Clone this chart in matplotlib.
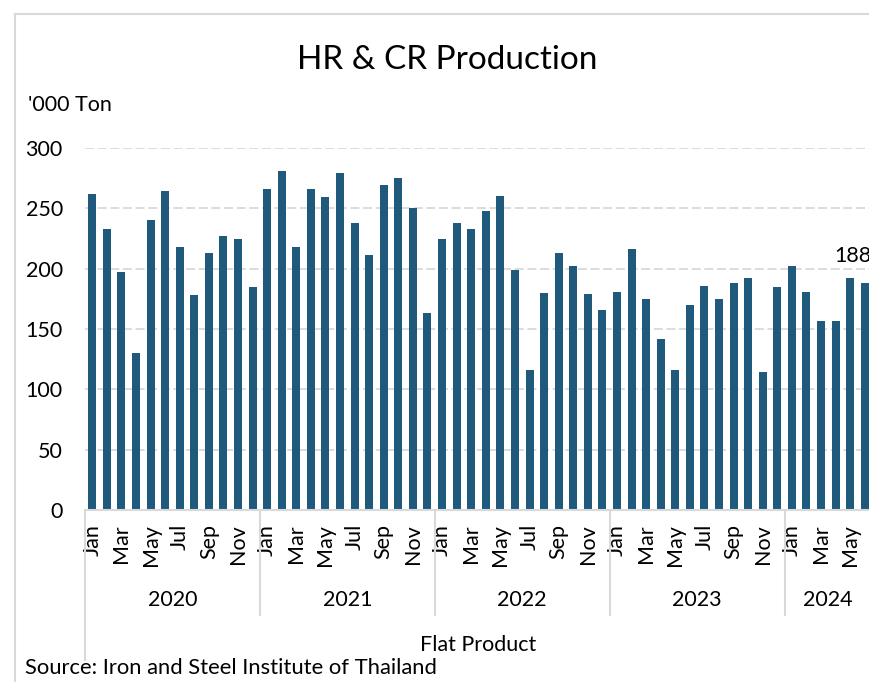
import matplotlib
matplotlib.use("Agg")
import matplotlib.pyplot as plt
from matplotlib.lines import Line2D
import numpy as np

plt.rcParams['font.family'] = ['Lato', 'DejaVu Sans']

# Monthly HR & CR production, Jan 2020 - Jun 2024 ('000 ton)
years = ["2020", "2021", "2022", "2023", "2024"]
months_per_year = [12, 12, 12, 12, 6]
month_names = ["Jan", "Feb", "Mar", "Apr", "May", "Jun",
               "Jul", "Aug", "Sep", "Oct", "Nov", "Dec"]
production = [
    262, 233, 197, 130, 240, 264, 218, 178, 213, 227, 225, 185,   # 2020
    266, 281, 218, 266, 259, 279, 238, 211, 269, 275, 250, 163,   # 2021
    225, 238, 233, 248, 260, 199, 116, 180, 213, 202, 179, 166,   # 2022
    181, 216, 175, 142, 116, 170, 186, 175, 188, 192, 114, 185,   # 2023
    202, 181, 157, 157, 192, 188,                                 # 2024
]
y_ticks = [0, 50, 100, 150, 200, 250, 300]

W, H = 870, 682
BAR_COLOR = "#1F597C"
GRID = "#D9D9D9"
FS = 15.5

fig = plt.figure(figsize=(W / 100, H / 100), dpi=100)

def fx(px):
    return px / W

def fy(py):
    return 1 - py / H

ax_left, ax_right, ax_top, ax_bottom = 85, 872, 148, 510
ax = fig.add_axes([fx(ax_left), fy(ax_bottom), fx(ax_right - ax_left), (ax_bottom - ax_top) / H])

n = len(production)
x = np.arange(n)
ax.bar(x, production, width=0.55, color=BAR_COLOR, zorder=3)

ax.set_xlim(-0.5, n - 0.5)
ax.set_ylim(0, 300)
ax.set_yticks(y_ticks)
ax.set_yticklabels([str(v) for v in y_ticks], fontsize=FS)
ax.tick_params(axis="y", length=0, pad=16)

# month labels: every other month
labels = []
for i in range(n):
    m = month_names[i % 12]
    labels.append(m if i % 2 == 0 else "")
ax.set_xticks(x)
ax.set_xticklabels(labels, rotation=90, fontsize=FS)
ax.tick_params(axis="x", length=0, pad=10)

for s in ["top", "right", "left"]:
    ax.spines[s].set_visible(False)
ax.spines["bottom"].set_color(GRID)
ax.spines["bottom"].set_linewidth(1.5)
ax.spines["bottom"].set_zorder(4)

for v in y_ticks[1:]:
    ax.axhline(v, color=GRID, lw=1.3, ls=(0, (5, 2)), zorder=1)

# year group separators and labels
xt = ax.get_xaxis_transform()
start = 0
bounds = [-0.5]
for yr, cnt in zip(years, months_per_year):
    center = start + (cnt - 1) / 2
    ax.text(center, -0.249, yr, transform=xt, ha="center", va="center", fontsize=FS)
    start += cnt
    bounds.append(start - 0.5)
for i, b in enumerate(bounds):
    y_end = -0.415 if i == 0 else -0.29
    ax.add_line(Line2D([b, b], [0, y_end], transform=xt, color=GRID, lw=1.5, clip_on=False))

ax.text(0.5, -0.373, "Flat Product", transform=ax.transAxes, ha="center", va="center", fontsize=FS)

# value label on the latest month
ax.annotate(f"{production[-1]}", xy=(n - 1, production[-1]), xytext=(-12, 17),
            textcoords="offset pixels", ha="center", va="bottom", fontsize=FS,
            annotation_clip=False)

fig.text(fx(447), fy(60), "HR & CR Production", ha="center", va="center", fontsize=24)
fig.text(fx(28), fy(105), "'000 Ton", ha="left", va="center", fontsize=FS)
fig.text(fx(25), fy(668), "Source: Iron and Steel Institute of Thailand", ha="left", va="center", fontsize=15.8)

# chart frame
fig.add_artist(Line2D([fx(15), fx(15)], [0, fy(14)], transform=fig.transFigure, color=GRID, lw=1.5))
fig.add_artist(Line2D([fx(15), 1], [fy(14), fy(14)], transform=fig.transFigure, color=GRID, lw=1.5))

fig.savefig("out.png", dpi=100)
